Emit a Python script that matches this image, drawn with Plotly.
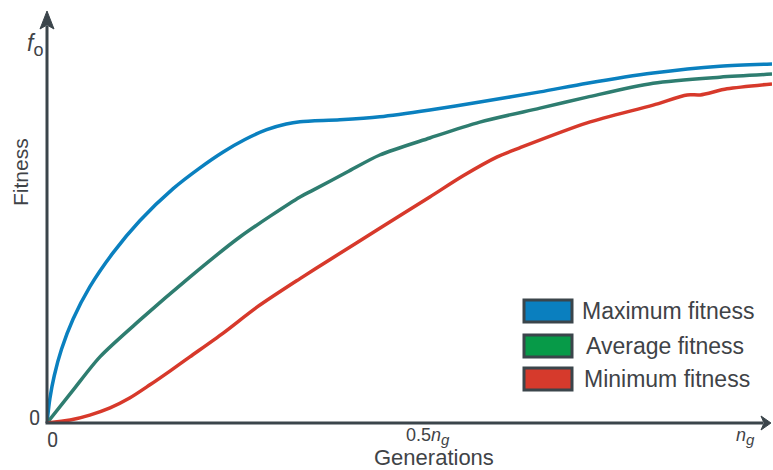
import plotly.graph_objects as go

# ---- data (generation fraction, fitness fraction of f_o) ----
max_x = [0.0, 0.004, 0.010, 0.020, 0.036, 0.059, 0.091, 0.128, 0.174, 0.211, 0.243, 0.273, 0.303, 0.330, 0.349, 0.404, 0.459, 0.528, 0.597, 0.680, 0.745, 0.836, 0.928, 1.0]
max_y = [0.0, 0.065, 0.125, 0.195, 0.275, 0.360, 0.450, 0.535, 0.620, 0.675, 0.717, 0.750, 0.776, 0.791, 0.797, 0.802, 0.810, 0.828, 0.849, 0.876, 0.899, 0.926, 0.944, 0.950]

avg_x = [0.0, 0.036, 0.073, 0.128, 0.197, 0.266, 0.349, 0.367, 0.414, 0.459, 0.528, 0.597, 0.680, 0.745, 0.836, 0.928, 1.0]
avg_y = [0.0, 0.087, 0.175, 0.272, 0.386, 0.492, 0.598, 0.616, 0.664, 0.709, 0.754, 0.796, 0.833, 0.862, 0.899, 0.915, 0.923]

min_x = [0.0, 0.032, 0.059, 0.087, 0.114, 0.142, 0.170, 0.197, 0.243, 0.290, 0.349, 0.390, 0.459, 0.528, 0.574, 0.621, 0.652, 0.745, 0.836, 0.883, 0.901, 0.938, 1.0]
min_y = [0.0, 0.008, 0.021, 0.040, 0.066, 0.101, 0.138, 0.175, 0.238, 0.307, 0.382, 0.432, 0.515, 0.598, 0.654, 0.704, 0.728, 0.794, 0.841, 0.868, 0.868, 0.884, 0.897]

series_names = ["Maximum fitness", "Average fitness", "Minimum fitness"]
line_colors = ["#0a80bf", "#2e7d70", "#d7392b"]
legend_colors = ["#0a7fbf", "#079a48", "#d63a2c"]

x_tick_vals = [0.008, 0.525, 0.963]
x_tick_text = ["0",
               "0.5<i>n</i><sub><span style='font-size:15px'><i>g</i></span></sub>",
               "<i>n</i><sub><span style='font-size:15px'><i>g</i></span></sub>"]
y_tick_vals = [0.0, 1.0]
y_tick_text = ["0", "<i>f</i><sub><span style='font-size:18px'>o</span></sub>"]

W, H = 773, 470
L, R, T, B = 47, 1, 10, 47
PW, PH = W - L - R, H - T - B
YMAX = 413 / 378.0

AX = "#3b454b"
TXT = "#3f4347"
FONT = "Liberation Sans, Arial"

def P(px, py):
    return (px - L) / PW, (H - B - py) / PH

fig = go.Figure()
for xs, ys, name, c in zip([max_x, avg_x, min_x], [max_y, avg_y, min_y], series_names, line_colors):
    fig.add_trace(go.Scatter(x=xs, y=ys, mode="lines", name=name,
                             line=dict(color=c, width=3.5, shape="spline", smoothing=0.8),
                             showlegend=False, hoverinfo="skip"))

shapes = []
# axes lines
x0, y0 = P(47, 423); x1, y1 = P(47, 26)
shapes.append(dict(type="line", xref="paper", yref="paper", x0=x0, y0=y0, x1=x1, y1=y1,
                   line=dict(color=AX, width=3)))
x0, y0 = P(45.5, 423); x1, y1 = P(763, 423)
shapes.append(dict(type="line", xref="paper", yref="paper", x0=x0, y0=y0, x1=x1, y1=y1,
                   line=dict(color=AX, width=3)))

def path(points):
    s = ""
    for i, (px, py) in enumerate(points):
        xp, yp = P(px, py)
        s += ("M" if i == 0 else "L") + f"{xp:.5f},{yp:.5f} "
    return s + "Z"

shapes.append(dict(type="path", xref="paper", yref="paper",
                   path=path([(47, 11), (54, 29), (47, 25), (40, 29)]),
                   fillcolor=AX, line=dict(color=AX, width=1)))
shapes.append(dict(type="path", xref="paper", yref="paper",
                   path=path([(771, 423), (761, 416), (764, 423), (761, 430)]),
                   fillcolor=AX, line=dict(color=AX, width=1)))

# legend boxes
box_tops = [300, 335, 368]
text_x = [580, 584, 582]
for top, col in zip(box_tops, legend_colors):
    xa, ya = P(524, top)
    xb, yb = P(572, top + 22)
    shapes.append(dict(type="rect", xref="paper", yref="paper", x0=xa, y0=ya, x1=xb, y1=yb,
                       fillcolor=col, line=dict(color=AX, width=3)))

annotations = []
for top, tx, name in zip(box_tops, text_x, series_names):
    xp, yp = P(tx, top + 11)
    annotations.append(dict(xref="paper", yref="paper", x=xp, y=yp, text=name, showarrow=False,
                            xanchor="left", yanchor="middle",
                            font=dict(family=FONT, size=23, color=TXT)))

# tick labels
annotations.append(dict(xref="x", yref="paper", x=x_tick_vals[0], y=P(0, 440)[1], text=x_tick_text[0],
                        showarrow=False, xanchor="center", yanchor="middle",
                        font=dict(family="Roboto", size=20, color=TXT)))
for v, t in zip(x_tick_vals[1:], x_tick_text[1:]):
    annotations.append(dict(xref="x", yref="paper", x=v, y=P(0, 437)[1], text=t,
                            showarrow=False, xanchor="center", yanchor="middle",
                            font=dict(family=FONT, size=18, color=TXT)))
annotations.append(dict(xref="paper", yref="y", x=P(34, 0)[0], y=y_tick_vals[0] + 0.012, text=y_tick_text[0],
                        showarrow=False, xanchor="center", yanchor="middle",
                        font=dict(family="Roboto", size=20, color=TXT)))
annotations.append(dict(xref="paper", yref="y", x=P(35, 0)[0], y=y_tick_vals[1] + 0.0, text=y_tick_text[1],
                        showarrow=False, xanchor="center", yanchor="middle",
                        font=dict(family=FONT, size=23, color=TXT)))
# axis titles
xp, yp = P(434, 457)
annotations.append(dict(xref="paper", yref="paper", x=xp, y=yp, text="Generations", showarrow=False,
                        xanchor="center", yanchor="middle",
                        font=dict(family=FONT, size=22, color=TXT)))
xp, yp = P(20, 172)
annotations.append(dict(xref="paper", yref="paper", x=xp, y=yp, text="Fitness", showarrow=False,
                        xanchor="center", yanchor="middle", textangle=-90,
                        font=dict(family=FONT, size=21, color=TXT)))

fig.update_layout(
    width=W, height=H,
    margin=dict(l=L, r=R, t=T, b=B),
    paper_bgcolor="white", plot_bgcolor="white",
    xaxis=dict(range=[0, 1], visible=False, fixedrange=True),
    yaxis=dict(range=[0, YMAX], visible=False, fixedrange=True),
    shapes=shapes, annotations=annotations,
)

fig.write_html("out.html", config={"displayModeBar": False})
